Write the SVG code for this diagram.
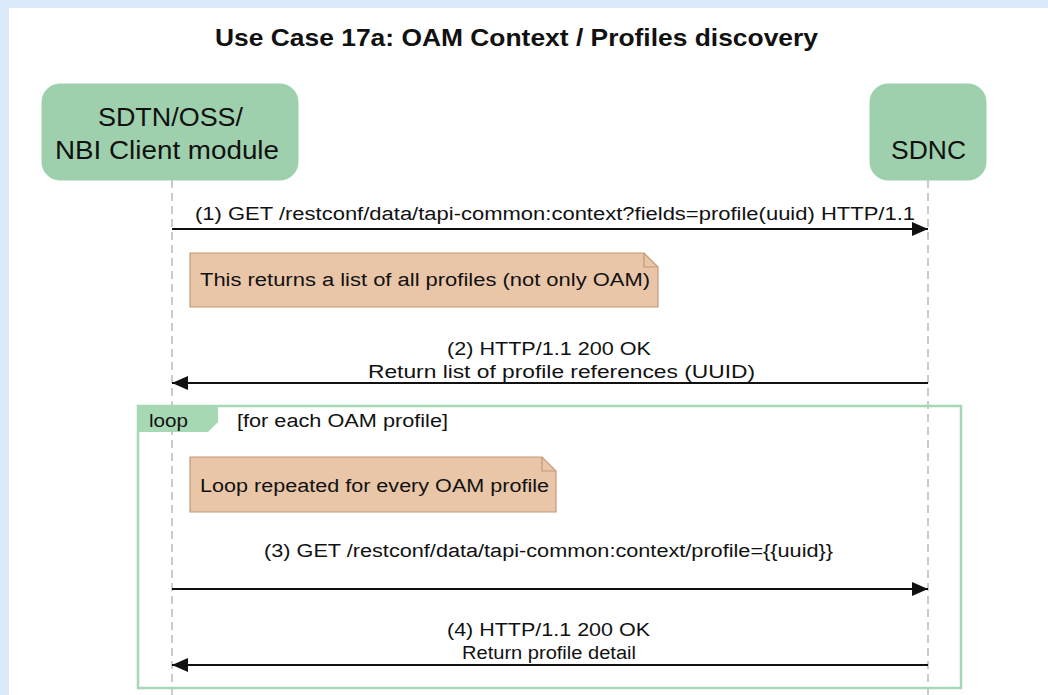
<svg xmlns="http://www.w3.org/2000/svg" width="1048" height="695" viewBox="0 0 1048 695">
<style>
text{font-family:"Liberation Sans",Arial,sans-serif;fill:#111}
.title{font-size:24px;font-weight:bold}
.part{font-size:26px}
.msg{font-size:18px}
.lbl{font-size:18px}
.lifeline{stroke:#bbb;stroke-width:1.5;stroke-dasharray:8,5;fill:none}
.arrow{stroke:#111;stroke-width:2;fill:none}
.note{fill:#eac6a9;stroke:#c49a76;stroke-width:1.2}
.box{fill:#9fd0ad;stroke:#9fd0ad}
</style>
<defs>
<marker id="ah" viewBox="0 0 16 14" refX="16" refY="7" markerWidth="16" markerHeight="14" markerUnits="userSpaceOnUse" orient="auto">
<path d="M0,0 L16,7 L0,14 Z" fill="#111"/>
</marker>
</defs>
<rect x="0" y="0" width="1048" height="695" fill="#dbeaf9"/>
<rect x="9" y="8" width="1039" height="687" fill="#ffffff"/>
<text class="title" x="215" y="46" textLength="603" lengthAdjust="spacingAndGlyphs">Use Case 17a: OAM Context / Profiles discovery</text>

<g id="lifelines">
<line class="lifeline" x1="172" y1="180" x2="172" y2="695"/>
<line class="lifeline" x1="928" y1="180" x2="928" y2="695"/>
</g>

<g id="client">
<rect class="box" x="42" y="84" width="256" height="96" rx="18"/>
<text class="part" x="98" y="126" textLength="145" lengthAdjust="spacingAndGlyphs">SDTN/OSS/</text>
<text class="part" x="55" y="159" textLength="224" lengthAdjust="spacingAndGlyphs">NBI Client module</text>
</g>
<g id="sdnc">
<rect class="box" x="870" y="84" width="116" height="96" rx="18"/>
<text class="part" x="891" y="159" textLength="75" lengthAdjust="spacingAndGlyphs">SDNC</text>
</g>

<g id="loop">
<rect x="138" y="406" width="823" height="282" fill="none" stroke="#a6d8b3" stroke-width="2.5"/>
<path d="M138,406 H218 V422 L208,432 H138 Z" fill="#a6d8b3"/>
<text class="lbl" x="149" y="427" textLength="39" lengthAdjust="spacingAndGlyphs">loop</text>
<text class="lbl" x="237" y="427" textLength="211" lengthAdjust="spacingAndGlyphs">[for each OAM profile]</text>
</g>

<g id="note1">
<path class="note" d="M190,253 H644 L658,267 V307 H190 Z"/>
<path d="M644,253 V267 H658" fill="none" stroke="#c49a76" stroke-width="1.2"/>
<text class="msg" x="200" y="286" textLength="450" lengthAdjust="spacingAndGlyphs">This returns a list of all profiles (not only OAM)</text>
</g>
<g id="note2">
<path class="note" d="M190,457 H542 L556,471 V512 H190 Z"/>
<path d="M542,457 V471 H556" fill="none" stroke="#c49a76" stroke-width="1.2"/>
<text class="msg" x="200" y="492" textLength="349" lengthAdjust="spacingAndGlyphs">Loop repeated for every OAM profile</text>
</g>

<g id="connectors">
<line class="arrow" x1="172" y1="229" x2="928" y2="229" marker-end="url(#ah)"/>
<line class="arrow" x1="928" y1="383" x2="172" y2="383" marker-end="url(#ah)"/>
<line class="arrow" x1="172" y1="589" x2="928" y2="589" marker-end="url(#ah)"/>
<line class="arrow" x1="928" y1="665" x2="172" y2="665" marker-end="url(#ah)"/>
</g>
<g id="labels">
<text class="msg" x="195" y="220" textLength="720" lengthAdjust="spacingAndGlyphs">(1) GET /restconf/data/tapi-common:context?fields=profile(uuid) HTTP/1.1</text>
<text class="msg" x="447" y="355" textLength="204" lengthAdjust="spacingAndGlyphs">(2) HTTP/1.1 200 OK</text>
<text class="msg" x="368" y="378" textLength="387" lengthAdjust="spacingAndGlyphs">Return list of profile references (UUID)</text>
<text class="msg" x="264" y="557" textLength="569" lengthAdjust="spacingAndGlyphs">(3) GET /restconf/data/tapi-common:context/profile={{uuid}}</text>
<text class="msg" x="447" y="636" textLength="203" lengthAdjust="spacingAndGlyphs">(4) HTTP/1.1 200 OK</text>
<text class="msg" x="462" y="659" textLength="174" lengthAdjust="spacingAndGlyphs">Return profile detail</text>
</g>
</svg>
